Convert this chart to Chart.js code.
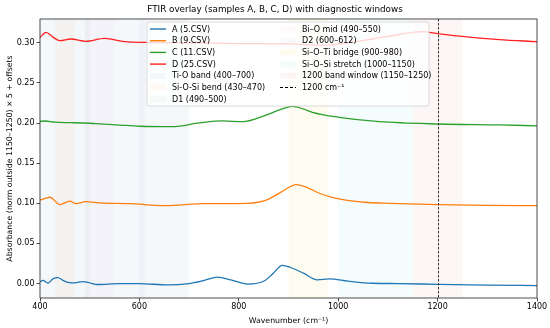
<!DOCTYPE html>
<html>
<head>
<meta charset="utf-8">
<script src="https://cdn.jsdelivr.net/npm/chart.js@4"></script>
<style>
  html, body { margin: 0; padding: 0; background: #fff; }
</style>
</head>
<body>
<canvas id="chart" width="550" height="328"></canvas>
<script>
// --- data ---
const seriesLabels = ['A (5.CSV)', 'B (9.CSV)', 'C (11.CSV)', 'D (25.CSV)'];

const wnA = [400, 406, 416, 426, 436, 446, 456, 470, 486, 496, 516, 560, 600, 657, 700, 731, 757, 784, 818, 852, 868, 888, 904, 930, 958, 982, 1020, 1069, 1120, 1200, 1300, 1400];
const absA = [0.002, 0.004, 0.0007, 0.0058, 0.0075, 0.004, 0.0016, 0.0009, 0.0025, 0.0016, -0.0012, 0, 0, -0.0017, 0, 0.004, 0.008, 0.0045, -0.0007, 0.0035, 0.012, 0.0227, 0.020, 0.013, 0.0046, 0.0058, 0.003, 0.0004, 0, -0.001, -0.002, -0.0025];

const wnB = [400, 410, 420, 440, 460, 473, 492, 520, 583, 651, 731, 818, 858, 885, 916, 940, 962, 990, 1022, 1060, 1103, 1200, 1300, 1400];
const absB = [0.104, 0.106, 0.1075, 0.0984, 0.1026, 0.0995, 0.102, 0.1005, 0.0995, 0.097, 0.0995, 0.100, 0.1046, 0.114, 0.1233, 0.119, 0.1125, 0.107, 0.1034, 0.101, 0.100, 0.0984, 0.0975, 0.097];

const wnC = [400, 410, 430, 460, 490, 520, 560, 600, 667, 721, 768, 808, 856, 885, 908, 930, 948, 1002, 1083, 1203, 1324, 1400];
const absC = [0.202, 0.2025, 0.201, 0.2005, 0.2, 0.199, 0.1975, 0.196, 0.1955, 0.2001, 0.2026, 0.2017, 0.2101, 0.217, 0.2208, 0.2175, 0.2133, 0.2071, 0.2017, 0.1988, 0.1976, 0.1965];

const wnD = [400, 412, 426, 440, 462, 492, 530, 570, 611, 700, 802, 900, 968, 1020, 1069, 1120, 1169, 1203, 1269, 1324, 1400];
const absD = [0.3067, 0.3129, 0.307, 0.3026, 0.3047, 0.3018, 0.3055, 0.3014, 0.3005, 0.300, 0.299, 0.2985, 0.297, 0.300, 0.3047, 0.310, 0.3138, 0.311, 0.3068, 0.304, 0.3014];

const windowLabels = ['Ti-O band (400–700)', 'Si-O-Si bend (430–470)', 'D1 (490–500)', 'Bi–O mid (490–550)', 'D2 (600–612)', 'Si–O–Ti bridge (900–980)', 'Si–O–Si stretch (1000–1150)', '1200 band window (1150–1250)'];
const windowStart = [400, 430, 490, 490, 600, 900, 1000, 1150];
const windowEnd = [700, 470, 500, 550, 612, 980, 1150, 1250];

const markerLabel = '1200 cm⁻¹';
const markerAt = 1200;

const xTicks = [400, 600, 800, 1000, 1200, 1400];
const yTicks = [0.00, 0.05, 0.10, 0.15, 0.20, 0.25, 0.30];

// --- styles ---
const seriesColors = ['#1f77b4', '#ff7f0e', '#2ca02c', '#ff2020'];
const windowColors = [
  'rgba(31,119,180,0.05)', 'rgba(255,127,14,0.045)', 'rgba(44,160,44,0.04)', 'rgba(227,119,194,0.035)',
  'rgba(148,103,189,0.04)', 'rgba(240,200,20,0.06)', 'rgba(23,190,207,0.045)', 'rgba(214,39,40,0.045)'
];
const FONT = '"DejaVu Sans", sans-serif';

const seriesX = [wnA, wnB, wnC, wnD];
const seriesY = [absA, absB, absC, absD];

const datasets = seriesLabels.map((label, i) => ({
  label,
  data: seriesX[i].map((x, j) => ({ x, y: seriesY[i][j] })),
  borderColor: seriesColors[i],
  borderWidth: 1.3,
  pointRadius: 0,
  cubicInterpolationMode: 'monotone',
  fill: false,
}));

// shaded windows + 1200 marker
const windowsPlugin = {
  id: 'windows',
  beforeDatasetsDraw(chart) {
    const { ctx, chartArea: a, scales: { x } } = chart;
    ctx.save();
    windowStart.forEach((s, i) => {
      const x0 = x.getPixelForValue(s), x1 = x.getPixelForValue(windowEnd[i]);
      ctx.fillStyle = windowColors[i];
      ctx.fillRect(x0, a.top, x1 - x0, a.bottom - a.top);
    });
    ctx.restore();
  },
  afterDatasetsDraw(chart) {
    const { ctx, chartArea: a, scales: { x } } = chart;
    ctx.save();
    const px = Math.round(x.getPixelForValue(markerAt)) + 0.5;
    ctx.strokeStyle = '#333';
    ctx.lineWidth = 1;
    ctx.setLineDash([2.5, 1.5]);
    ctx.beginPath();
    ctx.moveTo(px, a.top);
    ctx.lineTo(px, a.bottom);
    ctx.stroke();
    ctx.setLineDash([]);
    // frame
    ctx.lineWidth = 0.8;
    ctx.strokeStyle = '#222';
    ctx.strokeRect(a.left, a.top, a.right - a.left, a.bottom - a.top);
    ctx.restore();
  },
};

// matplotlib-like legend, 2 columns, column-major
const legendPlugin = {
  id: 'mplLegend',
  afterDraw(chart) {
    const { ctx, chartArea: a } = chart;
    const items = [];
    seriesLabels.forEach((t, i) => items.push({ type: 'line', text: t, color: seriesColors[i] }));
    windowLabels.forEach((t, i) => items.push({ type: 'patch', text: t, color: windowColors[i] }));
    items.push({ type: 'dash', text: markerLabel, color: '#000' });

    const bx = a.left + 107, by = a.top + 3, bw = 282, bh = 84;
    const rows = 7, rowH = 11.7, colX = [bx + 3, bx + 133];
    ctx.save();
    ctx.fillStyle = 'rgba(255,255,255,0.8)';
    ctx.strokeStyle = '#d0d0d0';
    ctx.lineWidth = 0.8;
    ctx.beginPath();
    ctx.roundRect(bx, by, bw, bh, 2);
    ctx.fill();
    ctx.stroke();

    ctx.font = '8px ' + FONT;
    ctx.textBaseline = 'middle';
    items.forEach((it, k) => {
      const col = Math.floor(k / rows), row = k % rows;
      const hx = colX[col], cy = by + 7 + row * rowH;
      if (it.type === 'line' || it.type === 'dash') {
        ctx.strokeStyle = it.color;
        ctx.lineWidth = it.type === 'line' ? 1.4 : 1;
        ctx.setLineDash(it.type === 'dash' ? [3, 2] : []);
        ctx.beginPath();
        ctx.moveTo(hx, cy);
        ctx.lineTo(hx + 16, cy);
        ctx.stroke();
        ctx.setLineDash([]);
      } else {
        ctx.fillStyle = it.color;
        ctx.fillRect(hx, cy - 3, 16, 6);
      }
      ctx.fillStyle = '#000';
      ctx.fillText(it.text, hx + 22, cy + 0.5);
    });
    ctx.restore();
  },
};

// title and axis titles
const textPlugin = {
  id: 'texts',
  afterDraw(chart) {
    const { ctx, chartArea: a } = chart;
    ctx.save();
    ctx.fillStyle = '#000';
    ctx.textAlign = 'center';
    ctx.textBaseline = 'middle';
    ctx.font = '8.8px ' + FONT;
    ctx.fillText('FTIR overlay (samples A, B, C, D) with diagnostic windows', chart.width / 2, 10);
    ctx.font = '7.8px ' + FONT;
    ctx.fillText('Wavenumber (cm⁻¹)', (a.left + a.right) / 2, 321);
    ctx.translate(10, (a.top + a.bottom) / 2);
    ctx.rotate(-Math.PI / 2);
    ctx.fillText('Absorbance (norm outside 1150–1250) × 5 + offsets', 0, 0);
    ctx.restore();
  },
};

new Chart(document.getElementById('chart'), {
  type: 'line',
  data: { datasets },
  options: {
    responsive: false,
    animation: false,
    devicePixelRatio: 1,
    layout: { padding: { top: 19, right: 13, left: 0, bottom: 0 } },
    plugins: { legend: { display: false }, tooltip: { enabled: false } },
    scales: {
      x: {
        type: 'linear',
        min: 400,
        max: 1400,
        afterFit: s => { s.height = 30; },
        afterBuildTicks: s => { s.ticks = xTicks.map(v => ({ value: v })); },
        grid: { drawOnChartArea: false, drawTicks: true, tickLength: 3.5, color: '#222', lineWidth: 0.8 },
        border: { display: false },
        ticks: { padding: 1, color: '#000', font: { family: FONT, size: 8 }, maxRotation: 0, callback: v => String(v) },
      },
      y: {
        type: 'linear',
        min: -0.018,
        max: 0.3296,
        afterFit: s => { s.width = 40; },
        afterBuildTicks: s => { s.ticks = yTicks.map(v => ({ value: v })); },
        grid: { drawOnChartArea: false, drawTicks: true, tickLength: 3.5, color: '#222', lineWidth: 0.8 },
        border: { display: false },
        ticks: { padding: 2, color: '#000', font: { family: FONT, size: 8 }, callback: v => v.toFixed(2) },
      },
    },
  },
  plugins: [windowsPlugin, legendPlugin, textPlugin],
});
</script>
</body>
</html>
